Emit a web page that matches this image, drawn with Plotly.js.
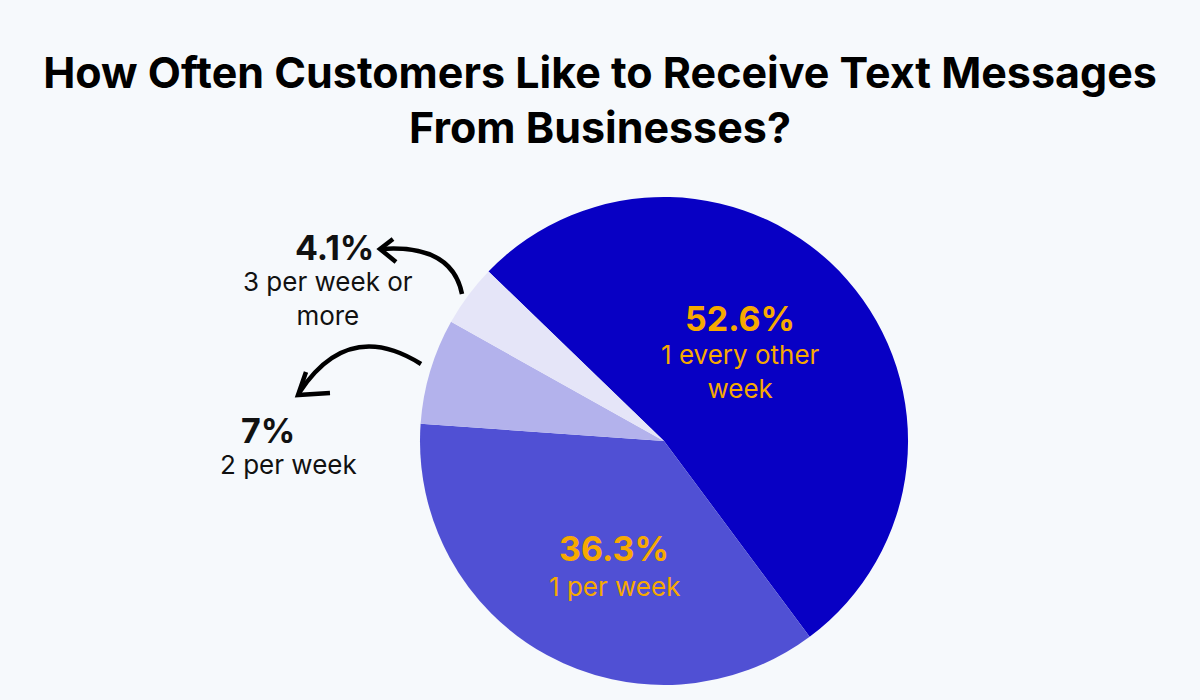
<!DOCTYPE html>
<html>
<head>
<meta charset="utf-8">
<script src="https://cdn.plot.ly/plotly-3.0.1.min.js"></script>
<style>
  html, body { margin: 0; padding: 0; background: #f6f9fc; }
  #chart { width: 1200px; height: 700px; }
</style>
</head>
<body>
<div id="chart"></div>
<script>
var labels = ['1 every other week', '1 per week', '2 per week', '3 per week or more'];
var values = [52.6, 36.3, 7, 4.1];
var pctText = ['52.6%', '36.3%', '7%', '4.1%'];
var sliceColors = ['#0800c4', '#5050d4', '#b3b2ec', '#e5e5f8'];

var bg = '#f6f9fc';
var orange = '#f7a900';
var font = 'Inter, Lato, sans-serif';

var pie = {
  type: 'pie',
  labels: labels,
  values: values,
  sort: false,
  direction: 'clockwise',
  rotation: -46,
  marker: {colors: sliceColors, line: {width: 0}},
  textinfo: 'none',
  hoverinfo: 'label+percent',
  showlegend: false,
  domain: {x: [0.35, 0.7567], y: [0.0214, 0.7186]}
};

// label positions (pixels) for each slice
var labelPos = [
  {x: 740, yPct: 318, yLbl: 371, lines: ['1 every other', 'week'], color: orange},
  {x: 614, yPct: 548, yLbl: 586, lines: ['1 per week'], color: orange},
  {x: 288, yPct: 430, yLbl: 464, lines: ['2 per week'], color: '#111111', px: 268},
  {x: 328, yPct: 247, yLbl: 298, lines: ['3 per week or', 'more'], color: '#111111', px: 334}
];

var annotations = [];
for (var i = 0; i < values.length; i++) {
  var p = labelPos[i];
  annotations.push({
    xref: 'x', yref: 'y', x: p.px || p.x, y: p.yPct,
    text: '<b>' + pctText[i] + '</b>', showarrow: false,
    font: {family: font, size: 34, color: p.color}
  });
  annotations.push({
    xref: 'x', yref: 'y', x: p.x, y: p.yLbl,
    text: p.lines.join('<br>'), showarrow: false,
    font: {family: font, size: 26, color: p.color}
  });
}

var shapes = [
  // arrow to 4.1%
  {type: 'path', xref: 'x', yref: 'y', path: 'M 462 294 Q 452 244 381 249',
   line: {color: '#000', width: 4.5}},
  {type: 'path', xref: 'x', yref: 'y', path: 'M 393 239 L 380 249 L 396 262',
   line: {color: '#000', width: 4.5}},
  // arrow to 7%
  {type: 'path', xref: 'x', yref: 'y', path: 'M 421 364 Q 348 318 299 393',
   line: {color: '#000', width: 4.5}},
  {type: 'path', xref: 'x', yref: 'y', path: 'M 306 372 L 298 395 L 330 393',
   line: {color: '#000', width: 4.5}}
];

var layout = {
  width: 1200,
  height: 700,
  margin: {l: 0, r: 0, t: 0, b: 0},
  paper_bgcolor: bg,
  plot_bgcolor: bg,
  title: {
    text: '<b>How Often Customers Like to Receive Text Messages<br>From Businesses?</b>',
    font: {family: font, size: 43, color: '#000'},
    x: 0.5, xanchor: 'center', y: 0.875, yanchor: 'top'
  },
  xaxis: {range: [0, 1200], visible: false, fixedrange: true},
  yaxis: {range: [700, 0], visible: false, fixedrange: true},
  annotations: annotations,
  shapes: shapes
};

Plotly.newPlot('chart', [pie], layout, {displayModeBar: false});
</script>
</body>
</html>
